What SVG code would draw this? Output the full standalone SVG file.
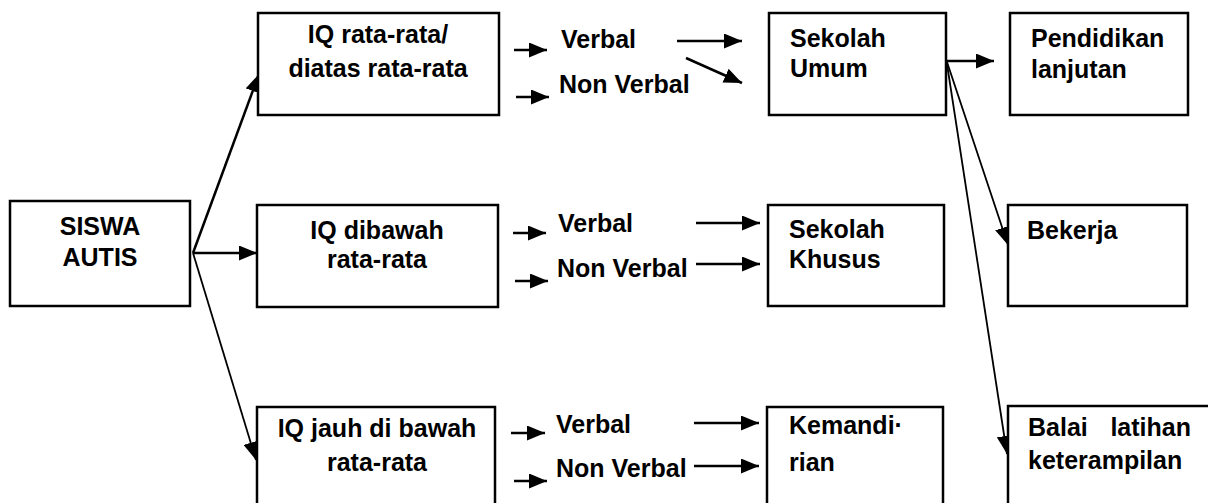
<svg xmlns="http://www.w3.org/2000/svg" width="1208" height="503" viewBox="0 0 1208 503">
<style>
.box{fill:#fff;stroke:#000;stroke-width:2.5}
.t{font-family:"Liberation Sans",Arial,sans-serif;font-weight:bold;font-size:25px;fill:#000}
.c{text-anchor:middle}
.a{stroke:#000;stroke-width:2.5;fill:none;marker-end:url(#ah)}
.a1{stroke:#000;stroke-width:1.8;fill:none;marker-end:url(#ah)}
</style>
<defs>
<marker id="ah" markerUnits="userSpaceOnUse" markerWidth="18" markerHeight="15" refX="18" refY="7.5" orient="auto">
<path d="M0,0 L18,7.5 L0,15 z" fill="#000"/>
</marker>
</defs>
<rect width="1208" height="503" fill="#fff"/>
<g id="connectors">
<line class="a" x1="193" y1="253" x2="259" y2="74"/>
<line class="a" x1="193" y1="253" x2="257" y2="253"/>
<line class="a1" x1="193" y1="253" x2="256" y2="460"/>
<line class="a" x1="514" y1="50" x2="547" y2="50"/>
<line class="a" x1="516" y1="97" x2="549" y2="97"/>
<line class="a" x1="677" y1="41" x2="742" y2="41"/>
<line class="a" x1="686" y1="58" x2="742" y2="83"/>
<line class="a" x1="513" y1="233" x2="546" y2="233"/>
<line class="a" x1="515" y1="281" x2="548" y2="281"/>
<line class="a" x1="696" y1="223" x2="760" y2="223"/>
<line class="a" x1="696" y1="264" x2="760" y2="264"/>
<line class="a" x1="511" y1="433" x2="545" y2="433"/>
<line class="a" x1="514" y1="481" x2="547" y2="481"/>
<line class="a" x1="694" y1="423" x2="759" y2="423"/>
<line class="a" x1="694" y1="466" x2="759" y2="466"/>
<line class="a" x1="947" y1="61" x2="994" y2="61"/>
<line class="a1" x1="947" y1="62" x2="1008" y2="245"/>
<line class="a1" x1="947" y1="64" x2="1007" y2="454"/>
</g>
<g id="siswa"><rect class="box" x="10" y="201" width="180" height="105"/>
<text class="t c" x="100" y="235">SISWA</text><text class="t c" x="100" y="266">AUTIS</text></g>
<g id="iq1"><rect class="box" x="258" y="13" width="241" height="102"/>
<text class="t c" x="378" y="43">IQ rata-rata/</text><text class="t c" x="378" y="77">diatas rata-rata</text></g>
<g id="iq2"><rect class="box" x="257" y="205" width="241" height="102"/>
<text class="t c" x="377" y="239">IQ dibawah</text><text class="t c" x="377" y="268">rata-rata</text></g>
<g id="iq3"><rect class="box" x="257" y="407" width="238" height="110"/>
<text class="t c" x="377" y="437">IQ jauh di bawah</text><text class="t c" x="377" y="471">rata-rata</text></g>
<g id="v1"><text class="t" x="561" y="48">Verbal</text><text class="t" x="559" y="93">Non Verbal</text></g>
<g id="v2"><text class="t" x="558" y="232">Verbal</text><text class="t" x="557" y="277">Non Verbal</text></g>
<g id="v3"><text class="t" x="556" y="433">Verbal</text><text class="t" x="556" y="477">Non Verbal</text></g>
<g id="umum"><rect class="box" x="769" y="13" width="177" height="102"/>
<text class="t" x="790" y="47">Sekolah</text><text class="t" x="790" y="77">Umum</text></g>
<g id="khusus"><rect class="box" x="768" y="205" width="176" height="101"/>
<text class="t" x="789" y="238">Sekolah</text><text class="t" x="789" y="268">Khusus</text></g>
<g id="kemandirian"><rect class="box" x="767" y="407" width="176" height="110"/>
<text class="t" x="789" y="434">Kemandi·</text><text class="t" x="789" y="471">rian</text></g>
<g id="pendidikan"><rect class="box" x="1010" y="13" width="178" height="102"/>
<text class="t" x="1031" y="47">Pendidikan</text><text class="t" x="1031" y="78">lanjutan</text></g>
<g id="bekerja"><rect class="box" x="1008" y="205" width="179" height="101"/>
<text class="t" x="1027" y="239">Bekerja</text></g>
<g id="balai"><rect class="box" x="1008" y="406" width="210" height="110"/>
<text class="t" x="1028" y="436">Balai</text><text class="t" x="1191" y="436" text-anchor="end">latihan</text>
<text class="t" x="1028" y="469">keterampilan</text></g>
</svg>
